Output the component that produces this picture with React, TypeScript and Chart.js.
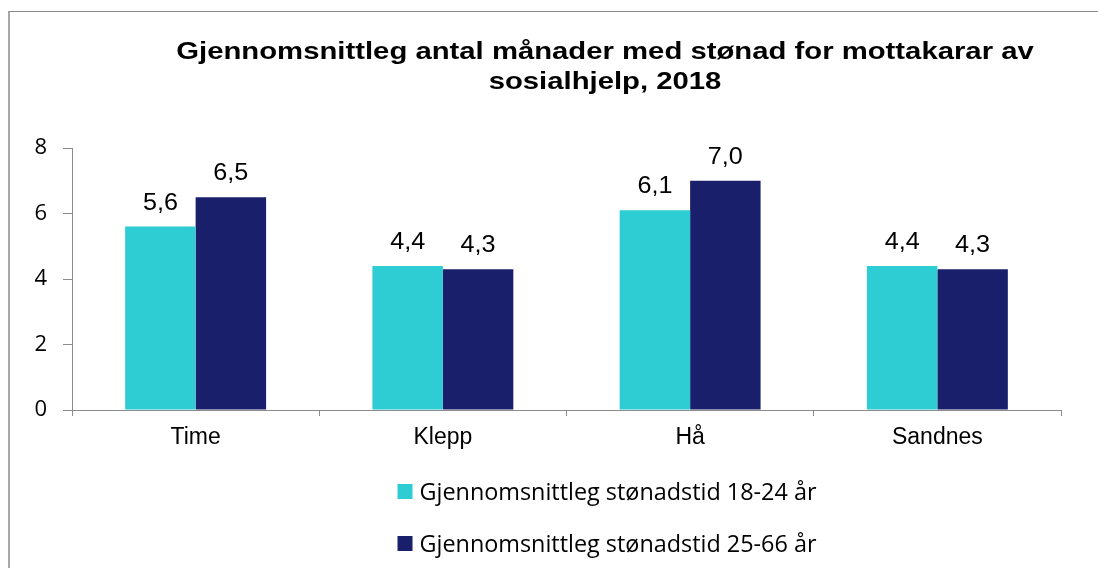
import React, { useEffect, useRef } from "react";
import { Chart, registerables } from "chart.js";

Chart.register(...registerables);

const titleLines = [
  "Gjennomsnittleg antal månader med stønad for mottakarar av",
  "sosialhjelp, 2018",
];
const categories = ["Time", "Klepp", "Hå", "Sandnes"];
const series1Label = "Gjennomsnittleg stønadstid 18-24 år";
const series2Label = "Gjennomsnittleg stønadstid 25-66 år";
const series1Values = [5.6, 4.4, 6.1, 4.4];
const series2Values = [6.5, 4.3, 7.0, 4.3];
const yMin = 0;
const yMax = 8;
const yStep = 2;

const CYAN = "#2ECCD3";
const NAVY = "#191F6B";
const AXIS = "#8C8C8C";
const ARIAL = "'Liberation Sans', Arial, sans-serif";
const LEGEND_FONT = "'Open Sans', Lato, sans-serif";

// Title drawn with a slight horizontal stretch, like the wide bold title of the original
const titlePlugin = {
  id: "wideTitle",
  afterDraw(chart: any) {
    const ctx = chart.ctx;
    ctx.save();
    ctx.font = `bold 24px ${ARIAL}`;
    ctx.fillStyle = "#000";
    ctx.textAlign = "center";
    ctx.textBaseline = "alphabetic";
    const cx = chart.width / 2;
    const baselines = [46.5, 76.5];
    titleLines.forEach((line, i) => {
      ctx.save();
      ctx.translate(cx, baselines[i]);
      ctx.scale(1.22, 1);
      ctx.fillText(line, 0, 0);
      ctx.restore();
    });
    ctx.restore();
  },
};

const dataLabelPlugin = {
  id: "dataLabels",
  afterDatasetsDraw(chart: any) {
    const ctx = chart.ctx;
    ctx.save();
    ctx.font = `24px ${ARIAL}`;
    ctx.fillStyle = "#000";
    ctx.textAlign = "center";
    ctx.textBaseline = "alphabetic";
    chart.data.datasets.forEach((ds: any, i: number) => {
      const meta = chart.getDatasetMeta(i);
      meta.data.forEach((el: any, j: number) => {
        const v = ds.data[j] as number;
        ctx.save();
        ctx.translate(el.x, el.y - 17);
        ctx.scale(1.05, 1);
        ctx.fillText(v.toFixed(1).replace(".", ","), 0, 0);
        ctx.restore();
      });
    });
    ctx.restore();
  },
};

const stackedLegendPlugin = {
  id: "stackedLegend",
  afterDraw(chart: any) {
    const ctx = chart.ctx;
    ctx.save();
    ctx.font = `23.4px ${LEGEND_FONT}`;
    const items = chart.data.datasets.map((ds: any) => ({
      label: ds.label as string,
      color: ds.backgroundColor as string,
    }));
    const maxW = Math.max(...items.map((it: any) => ctx.measureText(it.label).width));
    const box = 15;
    const gap = 7;
    const total = box + gap + maxW;
    const x0 = chart.width / 2 + 2 - total / 2;
    const top0 = chart.chartArea.bottom + 74;
    const rowH = 52;
    items.forEach((it: any, i: number) => {
      const y = top0 + i * rowH;
      ctx.fillStyle = it.color;
      ctx.fillRect(x0, y, box, box);
      ctx.fillStyle = "#000";
      ctx.textAlign = "left";
      ctx.textBaseline = "alphabetic";
      ctx.fillText(it.label, x0 + box + gap, y + 16);
    });
    ctx.restore();
  },
};

export default function App() {
  const canvasRef = useRef<HTMLCanvasElement | null>(null);

  useEffect(() => {
    if (!canvasRef.current) return;
    const chart = new Chart(canvasRef.current, {
      type: "bar",
      data: {
        labels: categories,
        datasets: [
          {
            label: series1Label,
            data: series1Values,
            backgroundColor: CYAN,
            borderWidth: 0,
            barPercentage: 1,
            categoryPercentage: 0.57,
          },
          {
            label: series2Label,
            data: series2Values,
            backgroundColor: NAVY,
            borderWidth: 0,
            barPercentage: 1,
            categoryPercentage: 0.57,
          },
        ],
      },
      options: {
        responsive: false,
        animation: false,
        events: [],
        layout: {
          padding: { left: 0, right: 139, top: 136, bottom: 100 },
        },
        plugins: {
          legend: { display: false },
          tooltip: { enabled: false },
          title: { display: false },
        },
        scales: {
          x: {
            type: "category",
            offset: true,
            grid: {
              display: true,
              offset: true,
              drawOnChartArea: false,
              drawTicks: true,
              tickLength: 6,
              color: AXIS,
            },
            border: { display: true, color: AXIS, width: 1 },
            ticks: {
              color: "#000",
              font: { family: ARIAL, size: 23 },
              padding: 8,
              maxRotation: 0,
            },
            afterFit: (s: any) => {
              s.height = 58;
            },
          },
          y: {
            min: yMin,
            max: yMax,
            grid: {
              display: true,
              drawOnChartArea: false,
              drawTicks: true,
              tickLength: 9,
              color: AXIS,
            },
            border: { display: true, color: AXIS, width: 1 },
            ticks: {
              stepSize: yStep,
              color: "#000",
              font: { family: LEGEND_FONT, size: 22 },
              padding: 16,
            },
            afterFit: (s: any) => {
              s.width = 62;
            },
          },
        },
      },
      plugins: [titlePlugin, dataLabelPlugin, stackedLegendPlugin],
    } as any);
    return () => chart.destroy();
  }, []);

  return (
    <div
      style={{
        position: "absolute",
        left: 0,
        top: 0,
        width: 1098,
        height: 568,
        overflow: "hidden",
        background: "#fff",
      }}
    >
      <div
        style={{
          position: "absolute",
          left: 8,
          top: 11,
          width: 1300,
          height: 700,
          borderTop: "1px solid #8A8A8A",
          borderLeft: "2px solid #A8A8A8",
          boxSizing: "border-box",
        }}
      >
        <canvas
          ref={canvasRef}
          width={1190}
          height={556}
          style={{ display: "block", width: 1190, height: 556 }}
        />
      </div>
    </div>
  );
}
